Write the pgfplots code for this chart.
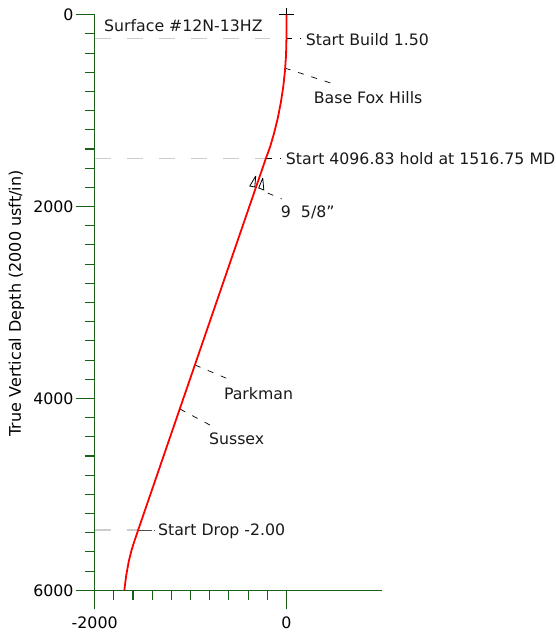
\documentclass[border=0pt]{standalone}
\usepackage{fontspec}
\setmainfont{DejaVu Sans}
\usepackage{pgfplots}
\pgfplotsset{compat=1.18}
\definecolor{axgreen}{RGB}{25,95,25}
\definecolor{dashgray}{RGB}{205,205,205}
\tikzset{
  lbl/.style={anchor=west, inner sep=0pt, font=\fontsize{15.75}{18}\selectfont, text=black!90},
  dk/.style={black, line width=0.7pt, dash pattern=on 6pt off 8pt},
}
\begin{document}
\begin{tikzpicture}
\path[use as bounding box] (-94.7pt,-44.7pt) rectangle (461.3pt,590.3pt);
\begin{axis}[
  scale only axis, width=287.6pt, height=575.6pt,
  at={(0pt,0pt)}, anchor=south west,
  xmin=-2000, xmax=1000, ymin=0, ymax=6000,
  y dir=reverse,
  axis x line=bottom, axis y line=left,
  axis line style={-, color=axgreen, line width=1.1pt},
  xtick={-2000,0}, ytick={0,2000,4000,6000},
  xticklabels={-2000,0}, yticklabels={0,2000,4000,6000},
  minor x tick num=9, minor y tick num=9,
  tick align=outside,
  major tick length=19pt, minor tick length=10pt,
  tick style={color=axgreen, line width=1.1pt},
  /pgf/number format/assume math mode=true,
  tick label style={font=\fontsize{15.8}{18}\selectfont, black},
  xticklabel style={inner sep=1pt, yshift=-6pt},
  yticklabel style={inner sep=1pt, xshift=-1pt, yshift=-0.5pt},
  ylabel={True Vertical Depth (2000 usft/in)},
  every axis y label/.style={at={(rel axis cs:-0.272,0.4983)}, anchor=center, rotate=90, font=\fontsize{16}{18}\selectfont},
  clip=false,
]
% grey dashed section lines
\addplot[dashgray, line width=1.5pt, dash pattern=on 16pt off 16pt, forget plot] coordinates {(-2000,250) (-170,250)};
\addplot[dashgray, line width=1.5pt, dash pattern=on 16pt off 16pt, forget plot] coordinates {(-2000,1500) (-215,1500)};
\addplot[dashgray, line width=1.5pt, dash pattern=on 16pt off 16pt, forget plot] coordinates {(-2000,5370) (-1546,5370)};
% leaders
\addplot[dk, forget plot] coordinates {(0,250) (150,250)};
\addplot[dk, forget plot] coordinates {(-215,1500) (-60,1500)};
\addplot[black!70, line width=0.7pt, dash pattern=on 14pt off 2pt on 1pt off 4pt, forget plot] coordinates {(-1546,5370) (-1350,5370)};
\addplot[dk, forget plot] coordinates {(-18,556) (461,712)};
\addplot[dk, forget plot] coordinates {(-955,3651) (-559,3818)};
\addplot[dk, forget plot] coordinates {(-1111,4110) (-778,4288)};
\addplot[dk, forget plot] coordinates {(-195,1859) (-49,1921)};
% casing mark
\addplot[black, line width=0.8pt, forget plot] coordinates {(-320,1681) (-382,1786) (-330,1796) (-320,1681)};
\addplot[black, line width=0.8pt, forget plot] coordinates {(-247,1702) (-289,1806) (-236,1827) (-247,1702)};
% surface cross
\addplot[black, line width=0.7pt, forget plot] coordinates {(-80,0) (80,0)};
\addplot[black, line width=0.7pt, forget plot] coordinates {(0,-70) (0,0)};
% well path
\addplot[red, line width=1.8pt, forget plot] coordinates {
(0,0) (0,250) (-4,420) (-15,583) (-33,750) (-58,913) (-90,1077) (-130,1239) (-168,1370) (-215,1500)
(-559,2500) (-903,3500) (-1247,4500) (-1546,5370) (-1563,5420) (-1590,5500) (-1615,5580) (-1645,5700) (-1672,5850) (-1691,6000)};
\node[lbl] at (axis cs:-1903,112) {Surface  \#12N-13HZ};
\node[lbl] at (axis cs:201,258) {Start Build 1.50};
\node[lbl] at (axis cs:284,863) {Base Fox Hills};
\node[lbl] at (axis cs:-7,1499) {Start 4096.83 hold at 1516.75 MD};
\node[lbl] at (axis cs:-59,2062) {9\ \ 5/8\symbol{34}};
\node[lbl] at (axis cs:-653,3949) {Parkman};
\node[lbl] at (axis cs:-809,4418) {Sussex};
\node[lbl] at (axis cs:-1341,5387) {Start Drop -2.00};
\end{axis}
\end{tikzpicture}
\end{document}
